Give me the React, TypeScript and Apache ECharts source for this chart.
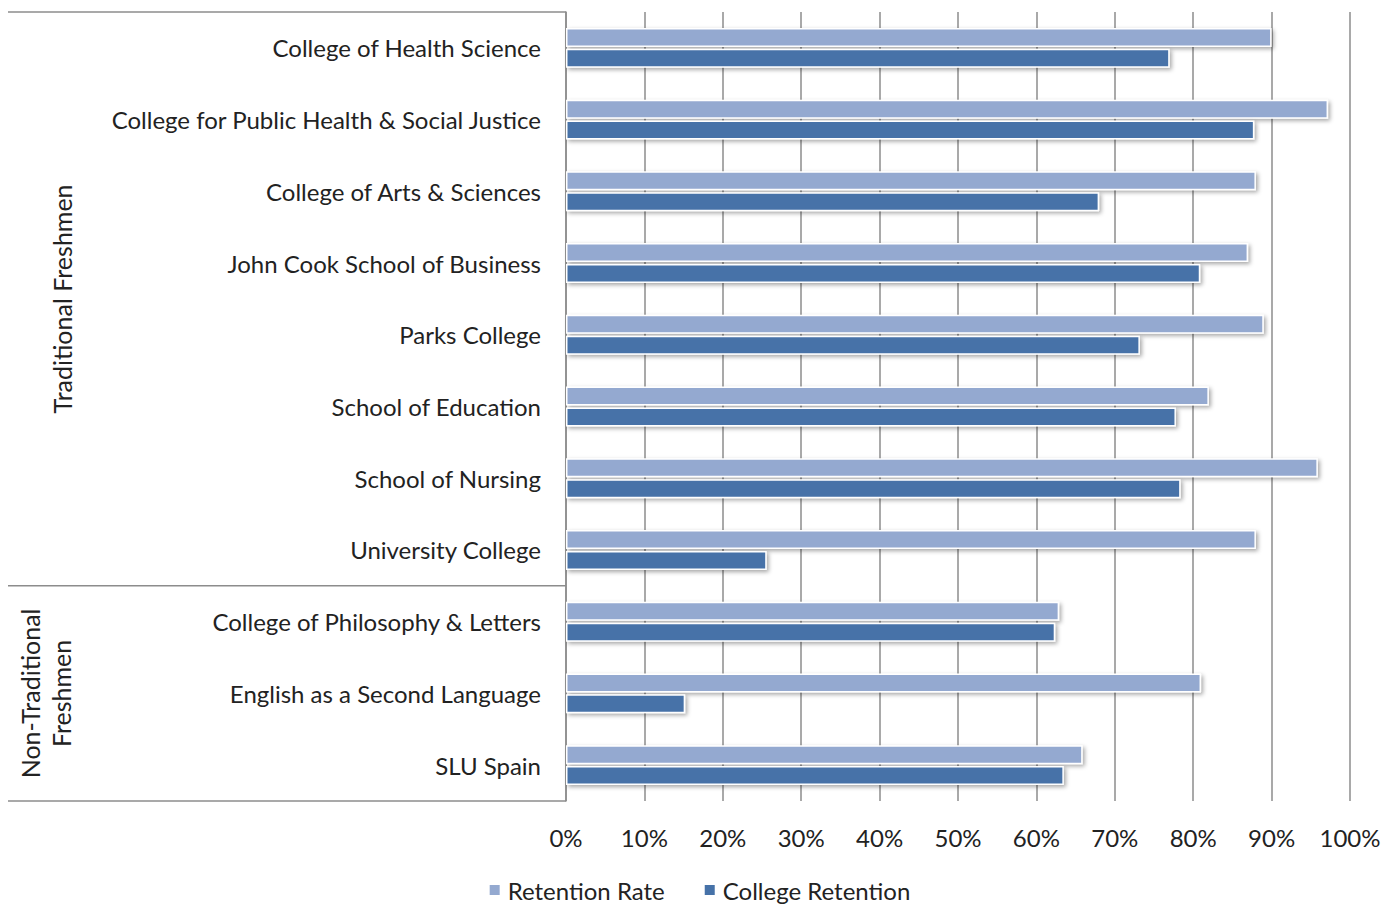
import React, { useEffect, useRef } from "react";
import * as echarts from "echarts";

const categories = [
  "College of Health Science",
  "College for Public Health & Social Justice",
  "College of Arts & Sciences",
  "John Cook School of Business",
  "Parks College",
  "School of Education",
  "School of Nursing",
  "University College",
  "College of Philosophy & Letters",
  "English as a Second Language",
  "SLU Spain",
];
const retentionRate = [90, 97.2, 88, 87, 89, 82, 95.9, 88, 62.9, 81, 65.9];
const collegeRetention = [77, 87.8, 68, 80.9, 73.2, 77.8, 78.4, 25.6, 62.4, 15.2, 63.5];
const xTicks = [0, 10, 20, 30, 40, 50, 60, 70, 80, 90, 100];
const groups = [
  { label: "Traditional Freshmen", from: 0, to: 7 },
  { label: "Non-Traditional\nFreshmen", from: 8, to: 10 },
];

const FONT = "Lato, 'Open Sans', sans-serif";
const LINE = "#8c8c8c";

export default function App() {
  const ref = useRef<HTMLDivElement>(null);
  useEffect(() => {
    const chart = echarts.init(ref.current!, undefined, { renderer: "svg" });
    const barStyle = (color: string) => ({
      color,
      borderColor: "#ffffff",
      borderWidth: 1.5,
      shadowBlur: 4,
      shadowOffsetX: 2,
      shadowOffsetY: 2,
      shadowColor: "rgba(0,0,0,0.35)",
    });
    chart.setOption({
      animation: false,
      backgroundColor: "#ffffff",
      textStyle: { fontFamily: FONT },
      grid: { left: 566, right: 48, top: 12, bottom: 104, containLabel: false },
      legend: {
        top: 873,
        left: "center",
        itemWidth: 12,
        itemHeight: 12,
        itemGap: 38,
        icon: "rect",
        textStyle: { fontFamily: FONT, fontSize: 24, color: "#222", padding: [0, 0, 0, 2] },
        data: ["Retention Rate", "College Retention"],
      },
      xAxis: {
        type: "value",
        min: xTicks[0],
        max: xTicks[xTicks.length - 1],
        interval: 10,
        axisLine: { show: false },
        axisTick: { show: false },
        axisLabel: {
          formatter: (v: number) => v + "%",
          fontSize: 24,
          color: "#222",
          margin: 24,
          fontFamily: FONT,
        },
        splitLine: { show: true, lineStyle: { color: LINE, width: 1.5 } },
      },
      yAxis: {
        type: "category",
        inverse: true,
        data: categories,
        axisLine: { show: true, lineStyle: { color: LINE, width: 1.5 } },
        axisTick: { show: false },
        axisLabel: { fontSize: 24, color: "#222", margin: 25, fontFamily: FONT },
      },
      series: [
        {
          name: "Retention Rate",
          type: "bar",
          data: retentionRate,
          barWidth: 19,
          barGap: "10%",
          itemStyle: barStyle("#94a9d0"),
        },
        {
          name: "College Retention",
          type: "bar",
          data: collegeRetention,
          barWidth: 19,
          itemStyle: barStyle("#4672a8"),
        },
      ],
    });

    const yc = (i: number) => chart.convertToPixel({ yAxisIndex: 0 }, i) as number;
    const band = yc(1) - yc(0);
    const boundary = (i: number) => yc(i) - band / 2;
    const x0 = chart.convertToPixel({ xAxisIndex: 0 }, 0) as number;
    const lines: any[] = [];
    const edges = [boundary(0), boundary(8), boundary(10) + band];
    edges.forEach((y) =>
      lines.push({
        type: "line",
        shape: { x1: 8, y1: y, x2: x0, y2: y },
        style: { stroke: LINE, lineWidth: 1.5 },
      })
    );
    const texts = groups.map((g, gi) => {
      const yTop = boundary(g.from);
      const yBot = boundary(g.to) + band;
      return {
        type: "text",
        x: gi === 0 ? 62 : 45,
        y: (yTop + yBot) / 2,
        rotation: Math.PI / 2,
        style: {
          text: g.label,
          fontSize: 25,
          fontFamily: FONT,
          fill: "#222",
          align: "center",
          verticalAlign: "middle",
          lineHeight: 31,
        },
      };
    });
    chart.setOption({ graphic: [...lines, ...texts] });
    return () => chart.dispose();
  }, []);
  return (
    <div
      ref={ref}
      style={{ position: "fixed", left: 0, top: 0, width: 1398, height: 905 }}
    />
  );
}
